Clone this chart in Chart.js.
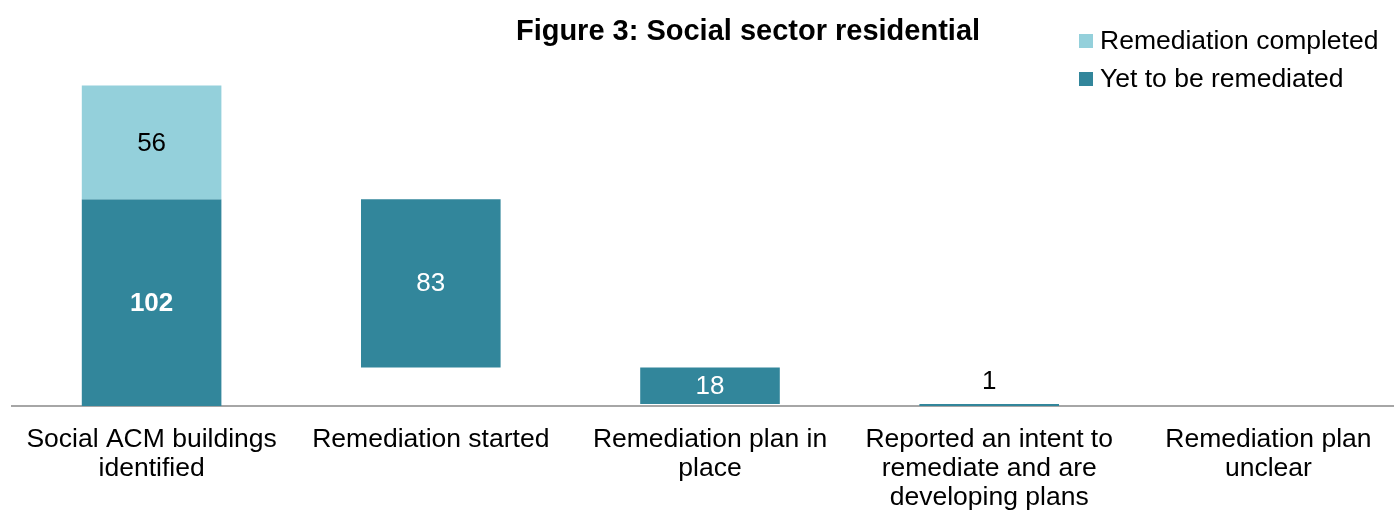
<!DOCTYPE html>
<html>
<head>
<meta charset="utf-8">
<script src="https://cdn.jsdelivr.net/npm/chart.js@4.4.1/dist/chart.umd.min.js"></script>
<style>
  html, body { margin: 0; padding: 0; background: #fff; overflow: hidden; }
  body { width: 1394px; height: 513px; position: relative; font-family: "Liberation Sans", Arial, sans-serif; }
  #wrap { position: absolute; left: 0; top: 0; width: 1408px; height: 513px; }
  #title { position: absolute; left: 0; width: 1496px; top: 15px; text-align: center;
           font-size: 29px; font-weight: bold; color: #000; line-height: 30px; }
  #legend { position: absolute; left: 1079px; top: 24px; font-size: 26.5px; color: #000; }
  .item { height: 38px; line-height: 32px; white-space: nowrap; }
  .box { display: inline-block; width: 14px; height: 14px; margin-right: 7px; vertical-align: 1px; }
</style>
</head>
<body>
<div id="wrap"><canvas id="grafico"></canvas></div>
<div id="title">Figure 3: Social sector residential</div>
<div id="legend"></div>
<script>
// categorias e valores (gráfico em cascata)
const categorias = [
  ["Social ACM buildings", "identified"],
  ["Remediation started"],
  ["Remediation plan in", "place"],
  ["Reported an intent to", "remediate and are", "developing plans"],
  ["Remediation plan", "unclear"]
];
const remediacaoConcluida = [56, null, null, null, null];
const aRemediar = [102, 83, 18, 1, 0];
const eixoMax = 180;

const corConcluida = "#94D0DB";
const corARemediar = "#32869B";

// cascata: o primeiro sobe do zero, os seguintes descem a partir do anterior
let topo = 0;
const barrasARemediar = aRemediar.map((v, i) => {
  if (i === 0) { topo = v; return [0, v]; }
  const barra = [topo - v, topo];
  topo = topo - v;
  return barra;
});
const barrasConcluidas = remediacaoConcluida.map((v, i) =>
  v === null ? null : [aRemediar[i], aRemediar[i] + v]);

const rotulosValores = {
  id: "rotulosValores",
  afterDatasetsDraw(chart) {
    const ctx = chart.ctx;
    ctx.save();
    ctx.textAlign = "center";
    ctx.textBaseline = "middle";
    chart.data.datasets.forEach((ds, di) => {
      const meta = chart.getDatasetMeta(di);
      meta.data.forEach((bar, i) => {
        const valor = ds.valores[i];
        if (valor === null || valor === 0) return;
        const alto = Math.abs(bar.base - bar.y);
        const bold = di === 1 && i === 0;
        ctx.font = (bold ? "bold " : "") + "26px 'Liberation Sans', Arial, sans-serif";
        if (alto < 24) {
          ctx.fillStyle = "#000";
          ctx.fillText(String(valor), bar.x, Math.min(bar.y, bar.base) - 22);
        } else {
          ctx.fillStyle = ds.corRotulo;
          ctx.fillText(String(valor), bar.x, (bar.y + bar.base) / 2 + 1);
        }
      });
    });
    ctx.restore();
  }
};

const grafico = new Chart(document.getElementById("grafico"), {
  type: "bar",
  data: {
    labels: categorias,
    datasets: [
      {
        label: "Remediation completed",
        data: barrasConcluidas,
        valores: remediacaoConcluida,
        corRotulo: "#000",
        backgroundColor: corConcluida,
        barPercentage: 0.5,
        categoryPercentage: 1.0
      },
      {
        label: "Yet to be remediated",
        data: barrasARemediar,
        valores: aRemediar,
        corRotulo: "#fff",
        backgroundColor: corARemediar,
        barPercentage: 0.5,
        categoryPercentage: 1.0
      }
    ]
  },
  options: {
    responsive: true,
    maintainAspectRatio: false,
    animation: false,
    layout: { padding: { left: 12, right: 0, top: 41, bottom: 0 } },
    plugins: {
      legend: { display: false },
      title: { display: false },
      tooltip: { enabled: false }
    },
    scales: {
      x: {
        stacked: true,
        grid: { display: false, drawTicks: false },
        border: { display: true, color: "#A6A6A6", width: 2 },
        ticks: {
          color: "#000",
          padding: 19,
          maxRotation: 0,
          autoSkip: false,
          font: { family: "'Liberation Sans', Arial, sans-serif", size: 26.5, lineHeight: 1.1 }
        },
        afterFit(scale) { scale.height = 107; }
      },
      y: {
        stacked: false,
        display: false,
        min: 0,
        max: eixoMax
      }
    }
  },
  plugins: [rotulosValores]
});

// legenda em HTML, canto superior direito
const legenda = document.getElementById("legend");
grafico.data.datasets.forEach(ds => {
  const item = document.createElement("div");
  item.className = "item";
  item.innerHTML = '<span class="box" style="background:' + ds.backgroundColor + '"></span>' + ds.label;
  legenda.appendChild(item);
});
</script>
</body>
</html>
